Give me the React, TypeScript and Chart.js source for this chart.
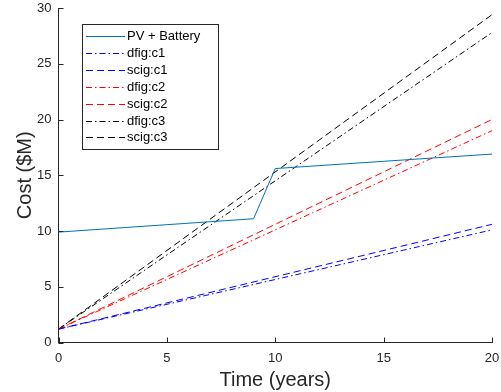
import React, { useEffect, useRef } from "react";
import { Chart, registerables } from "chart.js";

Chart.register(...registerables);

const years = [0, 9, 10, 20];
const pvBattery = [9.9, 11.1, 15.6, 16.9];
const spanYears = [0, 20];
const dfigC1 = [1.2, 10.1];
const scigC1 = [1.2, 10.6];
const dfigC2 = [1.2, 19.0];
const scigC2 = [1.2, 20.0];
const dfigC3 = [1.2, 27.8];
const scigC3 = [1.2, 29.4];
const xTicks = [0, 5, 10, 15, 20];
const yTicks = [0, 5, 10, 15, 20, 25, 30];

const FONT = "'Liberation Sans', Arial, Helvetica, sans-serif";
const AXIS = "#262626";
const DASH = [7, 4];
const DASHDOT = [6, 3, 1.5, 3];

const pts = (xs: number[], ys: number[]) => xs.map((x, i) => ({ x, y: ys[i] }));

const overlayPlugin = {
  id: "overlay",
  afterDraw(chart: any) {
    const { ctx, chartArea, scales } = chart;
    const xs = scales.x;
    const ys = scales.y;
    ctx.save();
    ctx.strokeStyle = AXIS;
    ctx.lineWidth = 1;
    ctx.beginPath();
    xTicks.forEach((v) => {
      const px = Math.round(xs.getPixelForValue(v)) + 0.5;
      ctx.moveTo(px, chartArea.bottom);
      ctx.lineTo(px, chartArea.bottom - 5);
    });
    yTicks.forEach((v) => {
      const py = Math.round(ys.getPixelForValue(v)) + 0.5;
      ctx.moveTo(chartArea.left, py);
      ctx.lineTo(chartArea.left + 5, py);
    });
    ctx.stroke();

    const bx = 82.5, by = 24.5, bw = 136, bh = 125;
    ctx.fillStyle = "#ffffff";
    ctx.fillRect(bx, by, bw, bh);
    ctx.strokeStyle = AXIS;
    ctx.strokeRect(bx, by, bw, bh);
    const rowY0 = 36;
    const rowStep = 16.9;
    chart.data.datasets.forEach((ds: any, i: number) => {
      const y = Math.round(rowY0 + i * rowStep) + 0.5;
      ctx.strokeStyle = ds.borderColor;
      ctx.lineWidth = 1;
      ctx.setLineDash(ds.borderDash || []);
      ctx.beginPath();
      ctx.moveTo(86, y);
      ctx.lineTo(125, y);
      ctx.stroke();
      ctx.setLineDash([]);
      ctx.fillStyle = "#000000";
      ctx.font = `13px ${FONT}`;
      ctx.textAlign = "left";
      ctx.textBaseline = "middle";
      ctx.fillText(ds.label, 127, y);
    });
    ctx.restore();
  },
};

const noPad = (s: any) => {
  s.paddingTop = 0;
  s.paddingBottom = 0;
  s.paddingLeft = 0;
  s.paddingRight = 0;
};

export default function App() {
  const ref = useRef<HTMLCanvasElement>(null);
  useEffect(() => {
    document.body.style.margin = "0";
    const line = (label: string, data: any[], color: string, dash: number[]) => ({
      label,
      data,
      borderColor: color,
      backgroundColor: color,
      borderWidth: 1,
      borderDash: dash,
      pointRadius: 0,
      fill: false,
      tension: 0,
    });
    const chart = new Chart(ref.current!, {
      type: "line",
      data: {
        datasets: [
          line("PV + Battery", pts(years, pvBattery), "#0072BD", []),
          line("dfig:c1", pts(spanYears, dfigC1), "#0000ff", DASHDOT),
          line("scig:c1", pts(spanYears, scigC1), "#0000ff", DASH),
          line("dfig:c2", pts(spanYears, dfigC2), "#ff0000", DASHDOT),
          line("scig:c2", pts(spanYears, scigC2), "#ff0000", DASH),
          line("dfig:c3", pts(spanYears, dfigC3), "#000000", DASHDOT),
          line("scig:c3", pts(spanYears, scigC3), "#000000", DASH),
        ],
      },
      options: {
        animation: false,
        responsive: false,
        devicePixelRatio: 1,
        layout: { padding: { top: 8, right: 9, left: 0, bottom: 0 } },
        plugins: { legend: { display: false }, tooltip: { enabled: false } },
        scales: {
          x: {
            type: "linear",
            min: 0,
            max: 20,
            afterFit: (s: any) => { s.height = 49.5; noPad(s); },
            afterBuildTicks: (s: any) => { s.ticks = xTicks.map((v) => ({ value: v })); },
            grid: { display: false, drawTicks: false },
            border: { display: true, color: AXIS, width: 1 },
            ticks: { color: AXIS, font: { family: FONT, size: 13 }, padding: 8, maxRotation: 0 },
            title: {
              display: true,
              text: "Time (years)",
              color: AXIS,
              font: { family: FONT, size: 20 },
              padding: { top: 0, bottom: 0 },
            },
          },
          y: {
            type: "linear",
            min: 0,
            max: 30,
            afterFit: (s: any) => { s.width = 58.5; noPad(s); },
            afterBuildTicks: (s: any) => { s.ticks = yTicks.map((v) => ({ value: v })); },
            grid: { display: false, drawTicks: false },
            border: { display: true, color: AXIS, width: 1 },
            ticks: { color: AXIS, font: { family: FONT, size: 13 }, padding: 7 },
            title: {
              display: true,
              text: "Cost ($M)",
              color: AXIS,
              font: { family: FONT, size: 20 },
              padding: { top: 13, bottom: 0 },
            },
          },
        },
      },
      plugins: [overlayPlugin],
    });
    return () => chart.destroy();
  }, []);
  return (
    <div style={{ position: "absolute", left: 0, top: 0, width: 501, height: 392, background: "#fff" }}>
      <canvas ref={ref} width={501} height={392} style={{ width: 501, height: 392 }} />
    </div>
  );
}
